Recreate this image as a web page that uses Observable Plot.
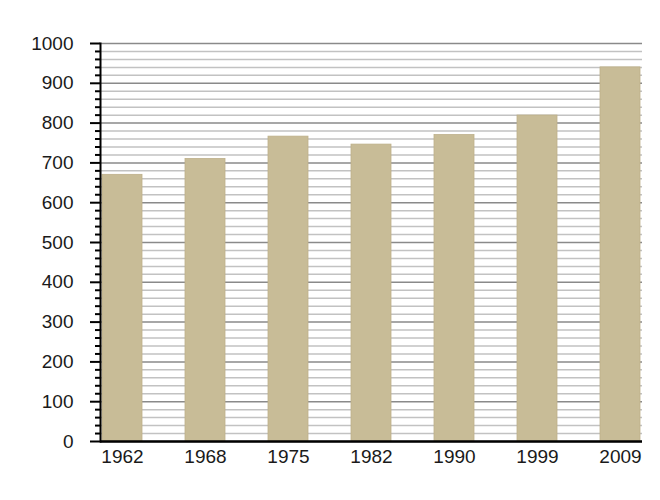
<!DOCTYPE html>
<html>
<head>
<meta charset="utf-8">
<script src="https://cdn.jsdelivr.net/npm/d3@7"></script>
<script src="https://cdn.jsdelivr.net/npm/@observablehq/plot@0.6"></script>
<style>
  html, body { margin: 0; padding: 0; background: #ffffff; }
  #chart svg { display: block; }
</style>
</head>
<body>
<div id="chart"></div>
<script>
const years = ["1962", "1968", "1975", "1982", "1990", "1999", "2009"];
const values = [670, 710, 766, 746, 770, 819, 940];
const majorTicks = [0, 100, 200, 300, 400, 500, 600, 700, 800, 900, 1000];
const minorTicks = d3.range(0, 1001, 20).filter(v => v % 100 !== 0);

const data = years.map((y, i) => ({year: y, value: values[i]}));

const chart = Plot.plot({
  width: 660,
  height: 500,
  marginLeft: 100,
  marginRight: 18,
  marginTop: 43,
  marginBottom: 59,
  style: {fontFamily: "'Liberation Sans', Arial, sans-serif", fontSize: "19px", color: "#1a1a1a", background: "#ffffff"},
  x: {domain: years, range: [101, 641], paddingInner: 0.52, paddingOuter: 0, label: null},
  y: {domain: [0, 1000], label: null},
  marks: [
    Plot.ruleY(minorTicks, {stroke: "#c2c2c2", strokeWidth: 1.5}),
    Plot.ruleY(majorTicks, {stroke: "#8a8a8a", strokeWidth: 1.5}),
    Plot.barY(data, {x: "year", y: "value", fill: "#c8bc97", stroke: "#bdb08a", strokeWidth: 0.8}),
    Plot.axisY(minorTicks, {tickSize: 5, tickFormat: () => "", label: null, stroke: "#000", strokeWidth: 2}),
    Plot.axisY(majorTicks, {tickSize: 10, tickPadding: 17, tickFormat: d3.format("d"), label: null, stroke: "#000", strokeWidth: 2, fill: "#1a1a1a", fontSize: 19}),
    Plot.axisX({tickSize: 0, tickPadding: 8, label: null, fill: "#1a1a1a", fontSize: 19}),
    Plot.ruleY([0], {stroke: "#000", strokeWidth: 2.5}),
    Plot.frame({anchor: "left", stroke: "#000", strokeWidth: 2})
  ]
});
document.getElementById("chart").appendChild(chart);
</script>
</body>
</html>
